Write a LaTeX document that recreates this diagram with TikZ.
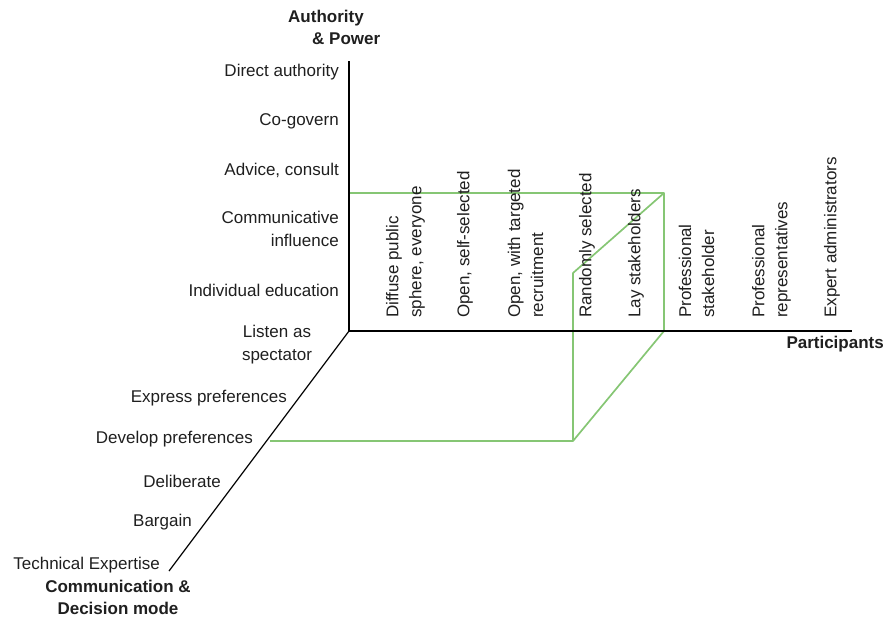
\documentclass[tikz,border=0pt]{standalone}
\usepackage{fontspec}
\setmainfont{Liberation Sans}
\begin{document}
\begin{tikzpicture}[x=1pt,y=-1pt,
  lbl/.style={font=\fontsize{17}{23}\selectfont, text=black!88, inner sep=0pt},
  ttl/.style={lbl, font=\fontsize{17}{22}\selectfont\bfseries},
  rot/.style={lbl, rotate=90, anchor=west, align=left},
  axisline/.style={line width=1.2pt, black},
  sel/.style={line width=1.7pt, draw={rgb,255:red,134;green,198;blue,116}, line join=round}]
\useasboundingbox (0,0) rectangle (885,616);

% axes
\coordinate (O) at (349,331);
\coordinate (Vtop) at (349,61);
\coordinate (Hend) at (852,331);
\coordinate (Dend) at (169,571);

% selected profile
\coordinate (g1) at (349,193);
\coordinate (g2) at (664,193);
\coordinate (g3) at (664,331);
\coordinate (g4) at (573,273);
\coordinate (g5) at (573,441);
\coordinate (g6) at (270,441);
\draw[sel] (g1) -- (g2) -- (g3);
\draw[sel] (g2) -- (g4) -- (g5) -- (g6);
\draw[sel] (g5) -- (g3);

\draw[axisline] (Vtop) -- (O) -- (Hend);
\draw[axisline] (O) -- (Dend);

% axis titles
\node[ttl, align=left, anchor=north west] (tauth) at (288,10) {Authority\\\hspace*{24pt}\& Power};
\node[ttl, anchor=east] (tpart) at (884,344) {Participants};
\node[ttl, align=center] (tcomm) at (118,597) {Communication \&\\Decision mode};

% authority levels
\node[lbl, anchor=east] (a1) at (339,72) {Direct authority};
\node[lbl, anchor=east] (a2) at (339,121) {Co-govern};
\node[lbl, anchor=east] (a3) at (339,170) {Advice, consult};
\node[lbl, anchor=east, align=right] (a4) at (339,229) {Communicative\\influence};
\node[lbl, anchor=east] (a5) at (339,290) {Individual education};

% communication modes
\node[lbl, align=center] (c0) at (277,345) {Listen as\\spectator};
\node[lbl, anchor=east] (c1) at (287,398) {Express preferences};
\node[lbl, anchor=east] (c2) at (253,439) {Develop preferences};
\node[lbl, anchor=east] (c3) at (221,481) {Deliberate};
\node[lbl, anchor=east] (c4) at (192,522) {Bargain};
\node[lbl, anchor=east] (c5) at (160,565) {Technical Expertise};

% participant categories
\node[rot] (p1) at (405.5,318) {Diffuse public\\sphere, everyone};
\node[rot] (p2) at (465,318) {Open, self-selected};
\node[rot] (p3) at (525.5,318) {Open, with targeted\\recruitment};
\node[rot] (p4) at (587,318) {Randomly selected};
\node[rot] (p5) at (636,318) {Lay stakeholders};
\node[rot] (p6) at (696.5,318) {Professional\\stakeholder};
\node[rot] (p7) at (771.5,318) {Professional\\representatives};
\node[rot] (p8) at (832,318) {Expert administrators};
\end{tikzpicture}
\end{document}
